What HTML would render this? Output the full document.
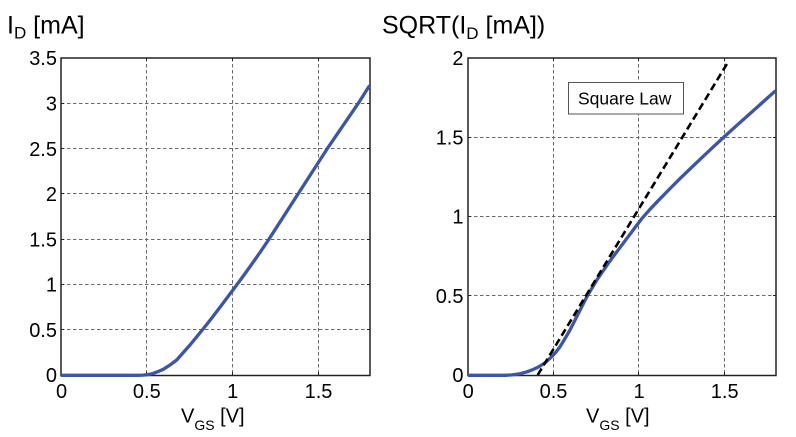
<!DOCTYPE html>
<html>
<head>
<meta charset="utf-8">
<style>
  html,body{margin:0;padding:0;background:#fff;}
  svg{display:block;}
  text{font-family:"Liberation Sans", Arial, sans-serif;fill:#000;}
</style>
</head>
<body>
<svg width="796" height="437" viewBox="0 0 796 437" xmlns="http://www.w3.org/2000/svg">
  <rect x="0" y="0" width="796" height="437" fill="#fff"/>

  <!-- ================= LEFT PLOT ================= -->
  <g stroke="#6a6a6a" stroke-width="1" stroke-dasharray="3.5,2.5" fill="none">
    <line x1="146.5" y1="58" x2="146.5" y2="375"/>
    <line x1="232.5" y1="58" x2="232.5" y2="375"/>
    <line x1="318.5" y1="58" x2="318.5" y2="375"/>
    <line x1="61" y1="329.5" x2="370" y2="329.5"/>
    <line x1="61" y1="284.5" x2="370" y2="284.5"/>
    <line x1="61" y1="239.5" x2="370" y2="239.5"/>
    <line x1="61" y1="193.5" x2="370" y2="193.5"/>
    <line x1="61" y1="148.5" x2="370" y2="148.5"/>
    <line x1="61" y1="103.5" x2="370" y2="103.5"/>
  </g>
  <rect x="61" y="58" width="309" height="317.5" fill="none" stroke="#222" stroke-width="1.5"/>
  <g stroke="#222" stroke-width="1">
    <line x1="146.5" y1="375" x2="146.5" y2="372"/><line x1="146.5" y1="58" x2="146.5" y2="61"/>
    <line x1="232.5" y1="375" x2="232.5" y2="372"/><line x1="232.5" y1="58" x2="232.5" y2="61"/>
    <line x1="318.5" y1="375" x2="318.5" y2="372"/><line x1="318.5" y1="58" x2="318.5" y2="61"/>
    <line x1="61" y1="329.5" x2="64" y2="329.5"/><line x1="370" y1="329.5" x2="367" y2="329.5"/>
    <line x1="61" y1="284.5" x2="64" y2="284.5"/><line x1="370" y1="284.5" x2="367" y2="284.5"/>
    <line x1="61" y1="239.5" x2="64" y2="239.5"/><line x1="370" y1="239.5" x2="367" y2="239.5"/>
    <line x1="61" y1="193.5" x2="64" y2="193.5"/><line x1="370" y1="193.5" x2="367" y2="193.5"/>
    <line x1="61" y1="148.5" x2="64" y2="148.5"/><line x1="370" y1="148.5" x2="367" y2="148.5"/>
    <line x1="61" y1="103.5" x2="64" y2="103.5"/><line x1="370" y1="103.5" x2="367" y2="103.5"/>
  </g>
  <polyline fill="none" stroke="#3b55a8" stroke-width="3.3" stroke-linejoin="round" stroke-linecap="butt"
    points="61,375.3 138,375.3 143,375.1 146,374.8 150,374.2 153.3,373.3 158,371.6 163.3,369.3 170,365 176.7,360 183,352.9 190,345 201.7,330.7 210,320.3 220,307.3 235,287.3 245,273.6 253.3,262 260,252.4 268.3,240.2 297.3,195.1 327.3,148.6 359.3,101.8 369.6,85.5"/>

  <!-- left tick labels -->
  <g font-size="20" text-anchor="end">
    <text x="57" y="382.2">0</text>
    <text x="57" y="336.9">0.5</text>
    <text x="57" y="291.6">1</text>
    <text x="57" y="246.3">1.5</text>
    <text x="57" y="201.1">2</text>
    <text x="57" y="155.8">2.5</text>
    <text x="57" y="110.5">3</text>
    <text x="57" y="65.2">3.5</text>
  </g>
  <g font-size="20" text-anchor="middle">
    <text x="61.5" y="398">0</text>
    <text x="146.8" y="398">0.5</text>
    <text x="232.7" y="398">1</text>
    <text x="318.5" y="398">1.5</text>
  </g>
  <text x="7" y="33.3" font-size="25">I<tspan font-size="17" dy="5">D</tspan><tspan dy="-5"> [mA]</tspan></text>
  <text x="181" y="422.6" font-size="20">V<tspan font-size="14" dy="7.4">GS</tspan><tspan dy="-7.4"> [V]</tspan></text>

  <!-- ================= RIGHT PLOT ================= -->
  <g stroke="#6a6a6a" stroke-width="1" stroke-dasharray="3.5,2.5" fill="none">
    <line x1="553.5" y1="58" x2="553.5" y2="375"/>
    <line x1="638.5" y1="58" x2="638.5" y2="375"/>
    <line x1="724.5" y1="58" x2="724.5" y2="375"/>
    <line x1="468" y1="295.5" x2="776" y2="295.5"/>
    <line x1="468" y1="216.5" x2="776" y2="216.5"/>
    <line x1="468" y1="137.5" x2="776" y2="137.5"/>
  </g>
  <rect x="468" y="58" width="308" height="317.5" fill="none" stroke="#222" stroke-width="1.5"/>
  <g stroke="#222" stroke-width="1">
    <line x1="553.5" y1="375" x2="553.5" y2="372"/><line x1="553.5" y1="58" x2="553.5" y2="61"/>
    <line x1="638.5" y1="375" x2="638.5" y2="372"/><line x1="638.5" y1="58" x2="638.5" y2="61"/>
    <line x1="724.5" y1="375" x2="724.5" y2="372"/><line x1="724.5" y1="58" x2="724.5" y2="61"/>
    <line x1="468" y1="295.5" x2="471" y2="295.5"/><line x1="776" y1="295.5" x2="773" y2="295.5"/>
    <line x1="468" y1="216.5" x2="471" y2="216.5"/><line x1="776" y1="216.5" x2="773" y2="216.5"/>
    <line x1="468" y1="137.5" x2="471" y2="137.5"/><line x1="776" y1="137.5" x2="773" y2="137.5"/>
  </g>

  <!-- Square Law legend box -->
  <rect x="568.5" y="82.5" width="115" height="31.5" fill="#fff" stroke="#555" stroke-width="1"/>
  <text x="578" y="104.3" font-size="17.5">Square Law</text>

  <polyline fill="none" stroke="#3b55a8" stroke-width="3.3" stroke-linejoin="round" stroke-linecap="butt"
    points="468,375.3 505,375.3 512,374.9 520,373.7 527,371.8 533.3,369.4 538,367.2 543.3,364 547.5,360.6 551.7,356.7 556,352 560,346.7 565,338.6 570,330 578.3,313.6 586.7,297 596.7,280.2 608.3,263.3 618.3,249.8 630,234.2 641.7,218.7 650,209.3 660,198.8 670,188.6 680,178.6 690,168.9 700,159.4 712,148.1 724,137 737,125.2 750,113.6 762,102.9 775.6,90.7"/>
  <line x1="537.7" y1="375" x2="728.3" y2="61.7" stroke="#000" stroke-width="2.6" stroke-dasharray="7.5,4"/>

  <!-- right tick labels -->
  <g font-size="20" text-anchor="end">
    <text x="463.5" y="382.2">0</text>
    <text x="463.5" y="303">0.5</text>
    <text x="463.5" y="223.7">1</text>
    <text x="463.5" y="144.5">1.5</text>
    <text x="463.5" y="65.2">2</text>
  </g>
  <g font-size="20" text-anchor="middle">
    <text x="468.2" y="398">0</text>
    <text x="553.5" y="398">0.5</text>
    <text x="639" y="398">1</text>
    <text x="724.7" y="398">1.5</text>
  </g>
  <text x="382" y="33.3" font-size="25">SQRT(I<tspan font-size="17" dy="5.5">D</tspan><tspan dy="-5.5"> [mA])</tspan></text>
  <text x="586" y="422.6" font-size="20">V<tspan font-size="14" dy="7.4">GS</tspan><tspan dy="-7.4"> [V]</tspan></text>
</svg>
</body>
</html>
